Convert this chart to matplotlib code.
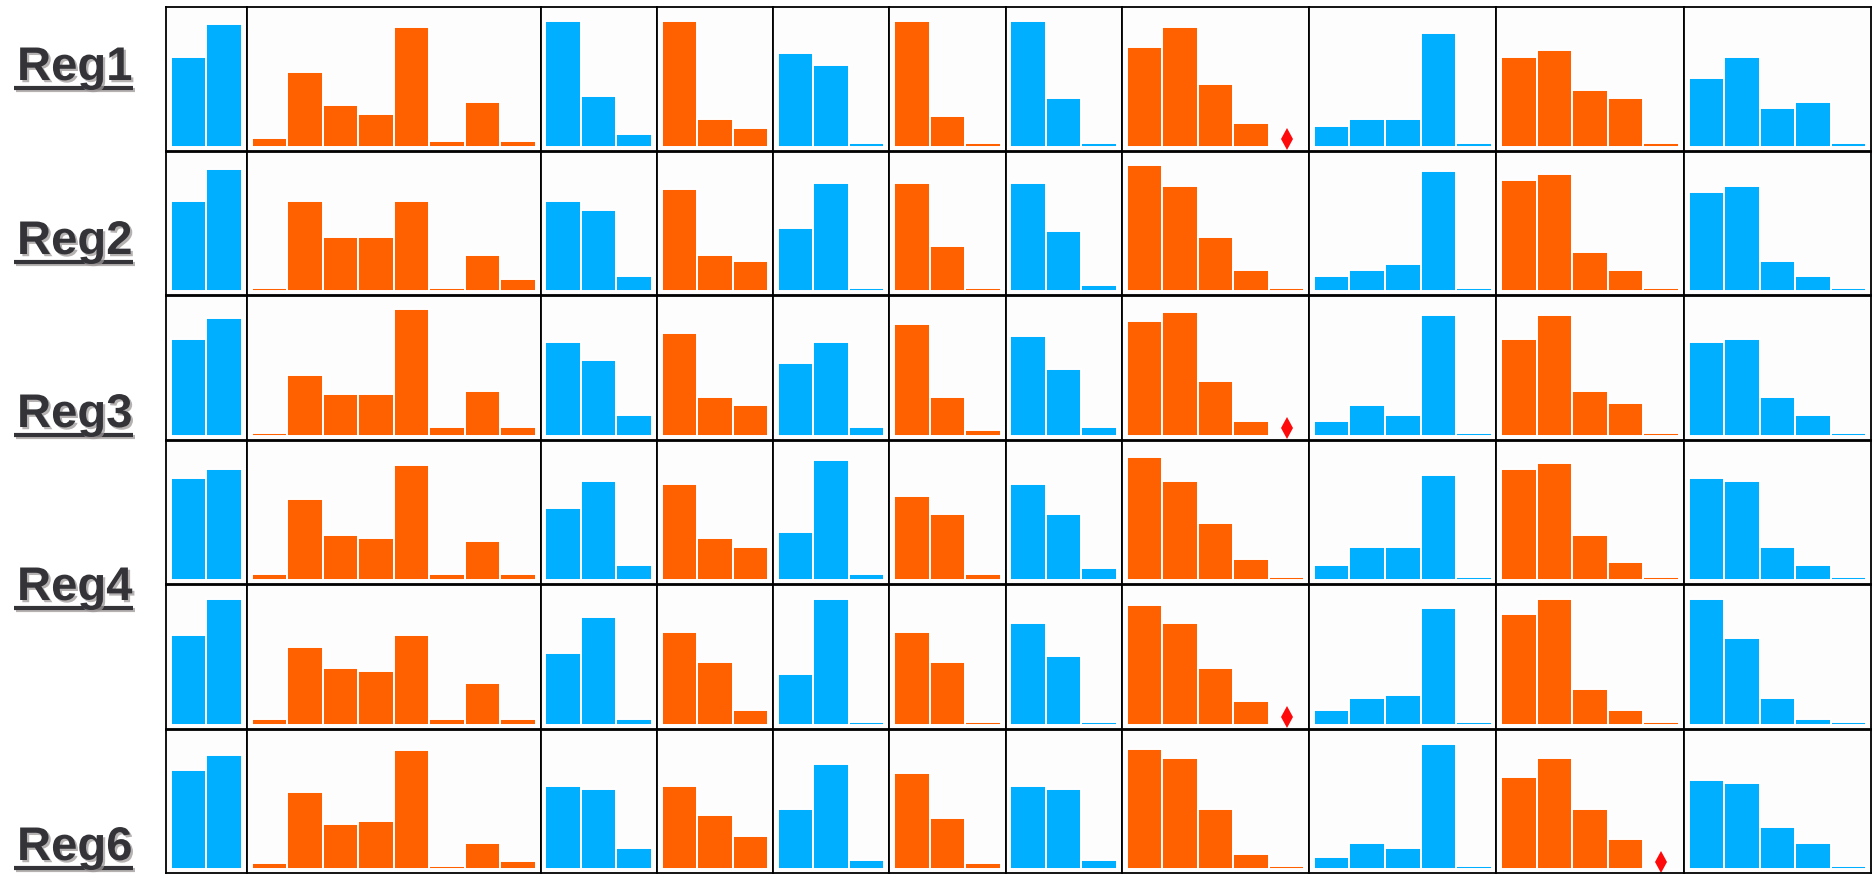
import matplotlib
matplotlib.use("Agg")
import matplotlib.pyplot as plt
import matplotlib.patheffects as pe
from matplotlib.lines import Line2D

BLUE = "#00AFFF"
ORANGE = "#FF6100"
MISSING = "#FF0A0A"
INK = "#333338"
SHADOW = "#9E9898"

# number of bars in each block, and the block colours (left to right)
group_sizes = [2, 8, 3, 3, 3, 3, 3, 5, 5, 5, 5]
group_colors = [BLUE, ORANGE, BLUE, ORANGE, BLUE, ORANGE,
                BLUE, ORANGE, BLUE, ORANGE, BLUE]

# bar values per region (0 = no data, drawn as a red diamond)
reg1 = [[64.4, 88.1],
        [6.7, 53.9, 30.2, 23.8, 86.2, 4.3, 32.3, 4.3],
        [90.5, 36.8, 9.0],
        [90.5, 19.7, 13.3],
        [67.2, 58.4, 2.6],
        [90.5, 21.9, 2.6],
        [90.5, 34.7, 2.6],
        [71.3, 86.2, 45.4, 17.3, 0],
        [15.2, 19.7, 19.7, 81.9, 2.6],
        [64.6, 69.1, 41.1, 34.7, 2.6],
        [49.6, 64.6, 28.0, 32.5, 2.6]]

reg2 = [[64.5, 87.8],
        [2.5, 64.5, 38.8, 38.8, 64.5, 2.5, 26.0, 8.9],
        [64.5, 58.1, 11.0],
        [73.0, 26.0, 21.7],
        [45.2, 77.6, 2.5],
        [77.6, 32.4, 2.5],
        [77.6, 43.1, 4.6],
        [90.4, 75.2, 38.8, 15.3, 2.5],
        [11.0, 15.3, 19.6, 85.9, 2.5],
        [79.5, 84.0, 28.1, 15.3, 2.5],
        [70.9, 75.2, 21.7, 11.0, 2.5]]

reg3 = [[69.4, 84.2],
        [2.4, 43.3, 30.1, 30.1, 90.9, 6.7, 32.5, 6.7],
        [67.2, 54.1, 15.3],
        [73.7, 28.2, 21.8],
        [52.2, 67.2, 6.7],
        [80.4, 28.2, 4.5],
        [71.5, 47.8, 6.7],
        [82.3, 89.0, 39.2, 11.0, 0],
        [10.8, 21.8, 15.3, 86.8, 2.4],
        [69.4, 86.8, 32.5, 23.7, 2.4],
        [67.2, 69.4, 28.2, 15.3, 2.4]]

reg4 = [[73.5, 80.0],
        [4.5, 58.5, 32.7, 30.5, 82.3, 4.5, 28.4, 4.5],
        [52.0, 71.4, 11.0],
        [69.2, 30.5, 24.1],
        [34.8, 86.4, 4.5],
        [60.6, 47.5, 4.5],
        [69.2, 47.5, 8.8],
        [88.5, 71.4, 41.3, 15.3, 2.4],
        [11.0, 24.1, 24.1, 75.7, 2.4],
        [80.0, 84.2, 32.7, 13.1, 2.4],
        [73.5, 71.4, 24.1, 11.0, 2.4]]

reg5 = [[64.4, 90.0],
        [4.3, 55.6, 40.9, 38.7, 64.4, 4.3, 29.9, 4.3],
        [51.5, 77.2, 4.3],
        [66.5, 45.1, 10.7],
        [36.3, 90.0, 2.1],
        [66.5, 45.1, 2.1],
        [72.9, 49.4, 2.1],
        [85.7, 72.9, 40.9, 17.1, 0],
        [10.7, 19.2, 21.4, 83.6, 2.1],
        [79.3, 90.0, 25.7, 10.7, 2.1],
        [90.0, 62.2, 19.2, 4.3, 2.1]]

reg6 = [[70.9, 81.6],
        [4.4, 55.7, 32.2, 34.3, 85.6, 2.3, 19.1, 6.1],
        [60.0, 57.8, 15.1],
        [60.0, 38.6, 23.6],
        [42.9, 75.2, 6.5],
        [68.8, 36.5, 4.4],
        [60.0, 57.8, 6.5],
        [85.9, 79.5, 42.9, 10.8, 2.3],
        [8.7, 19.1, 15.1, 90.1, 2.3],
        [66.4, 79.5, 42.9, 21.5, 0],
        [64.3, 62.1, 30.0, 19.1, 2.3]]

rows = [reg1, reg2, reg3, reg4, reg5, reg6]

# side captions
captions = ["Reg1", "Reg2", "Reg3", "Reg4", "Reg6"]
caption_baselines = [80, 254, 427, 600, 860]   # pixels from top

W, H = 1876, 874
fig = plt.figure(figsize=(W / 100, H / 100), dpi=100)
fig.patch.set_facecolor("white")

pad = 0.136
gs = fig.add_gridspec(
    len(rows), len(group_sizes),
    width_ratios=[n + 2 * pad for n in group_sizes],
    left=166 / W, right=1871 / W, top=1 - 7.3 / H, bottom=0.6 / H,
    wspace=0, hspace=0.006)

for r, row in enumerate(rows):
    for c, (vals, col) in enumerate(zip(row, group_colors)):
        ax = fig.add_subplot(gs[r, c])
        n = len(vals)
        xs = list(range(n))
        ax.bar(xs, vals, width=1.0, color=col, edgecolor="white",
               linewidth=1.4)
        for x, v in zip(xs, vals):
            if v == 0:
                ax.plot(x, 5.5, marker="d", color=MISSING,
                        markersize=11, markeredgewidth=0)
        ax.set_xlim(-0.5 - pad, n - 0.5 + pad)
        ax.set_ylim(-2.9, 100)
        ax.set_xticks([])
        ax.set_yticks([])
        ax.set_facecolor("#FDFDFD")
        for s in ax.spines.values():
            s.set_color("black")
            s.set_linewidth(1.3)

shadow_text = [pe.withSimplePatchShadow(offset=(1.6, -1.6),
                                        shadow_rgbFace=SHADOW, alpha=0.75)]
shadow_line = [pe.SimpleLineShadow(offset=(1.6, -1.6),
                                   shadow_color=SHADOW, alpha=0.75),
               pe.Normal()]

for label, base in zip(captions, caption_baselines):
    fig.text(17 / W, 1 - base / H, label, fontsize=34, fontweight="bold",
             family=["Liberation Sans", "DejaVu Sans"], color=INK,
             ha="left", va="baseline", path_effects=shadow_text)
    uy = 1 - (base + 7.5) / H
    fig.add_artist(Line2D([14 / W, 133 / W], [uy, uy],
                          transform=fig.transFigure, color=INK,
                          linewidth=3.0, solid_capstyle="butt",
                          path_effects=shadow_line))

fig.savefig("out.png", dpi=100, facecolor="white")
